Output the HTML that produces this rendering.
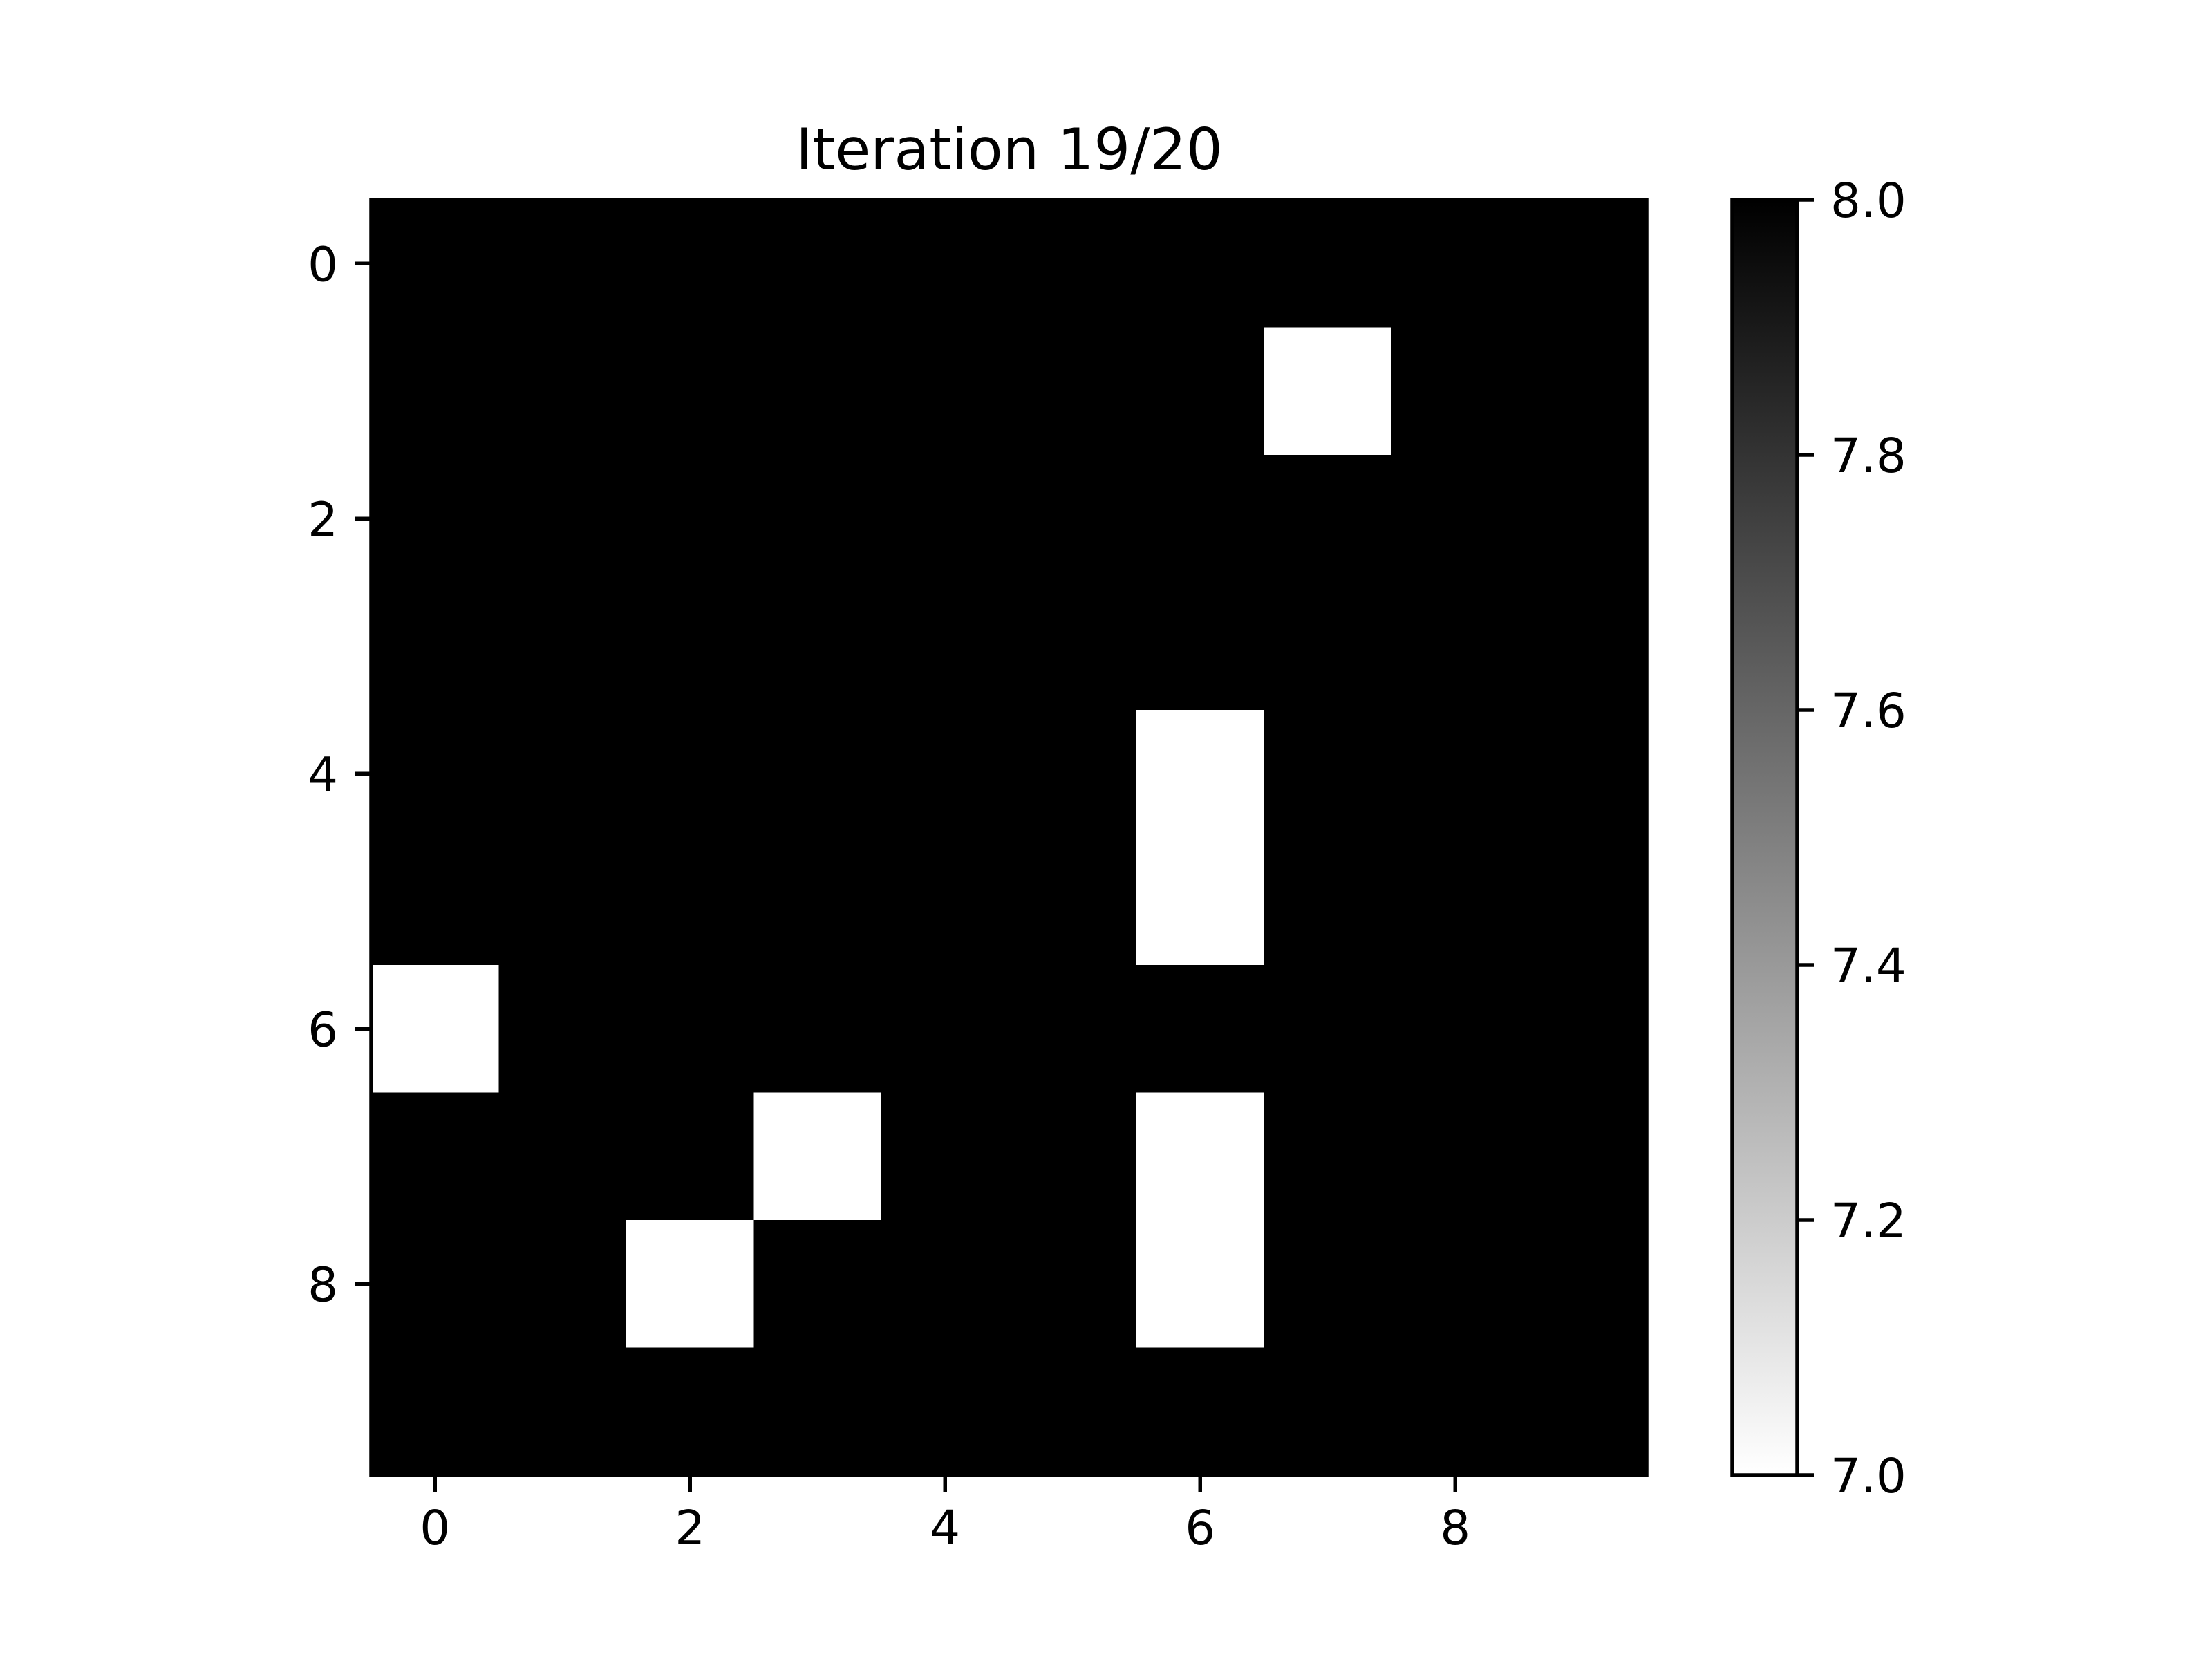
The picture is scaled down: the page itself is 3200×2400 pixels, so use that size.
<!DOCTYPE html>
<html><head><meta charset="utf-8"><style>
html,body{margin:0;padding:0;background:#fff}
svg{display:block}
text{font-family:"DejaVu Sans","Liberation Sans",sans-serif;fill:#000}
</style></head><body>
<svg id="chart" width="3200" height="2400" viewBox="0 0 3200 2400" xmlns="http://www.w3.org/2000/svg">
<defs><linearGradient id="cbgrad" x1="0" y1="1" x2="0" y2="0"><stop offset="0" stop-color="#fff"/><stop offset="1" stop-color="#000"/></linearGradient></defs>
<text x="1460" y="245" font-size="83" text-anchor="middle">Iteration 19/20</text>
<g id="cells"></g>
<g id="axes"></g>
<rect x="2506" y="289" width="94" height="1845" fill="url(#cbgrad)" stroke="#000" stroke-width="5.5"/>
<g id="cbticks"></g>
</svg>
<script>
const nRows = 10;
const nCols = 10;
const vmin = 7, vmax = 8;
// grid values (rows top to bottom)
const gridValues = [
[8,8,8,8,8,8,8,8,8,8],
[8,8,8,8,8,8,8,7,8,8],
[8,8,8,8,8,8,8,8,8,8],
[8,8,8,8,8,8,8,8,8,8],
[8,8,8,8,8,8,7,8,8,8],
[8,8,8,8,8,8,7,8,8,8],
[7,8,8,8,8,8,8,8,8,8],
[8,8,8,7,8,8,7,8,8,8],
[8,8,7,8,8,8,7,8,8,8],
[8,8,8,8,8,8,8,8,8,8]
];
const xTicks = [0,2,4,6,8];
const yTicks = [0,2,4,6,8];
const cbTicks = [7.0,7.2,7.4,7.6,7.8,8.0];

const NS = "http://www.w3.org/2000/svg";
const L = 537, T = 289, W = 1845, H = 1845;
const cw = W / nCols, ch = H / nRows;
const xs = c => L + (c + 0.5) * cw;
const ys = r => T + (r + 0.5) * ch;
const cbTop = 289, cbBot = 2134, cbX = 2600;
const cbY = v => cbBot - (v - vmin) / (vmax - vmin) * (cbBot - cbTop);
function mk(tag, attrs, parent){const e=document.createElementNS(NS,tag);for(const k in attrs)e.setAttribute(k,attrs[k]);parent.appendChild(e);return e;}
const cells = document.getElementById('cells');
gridValues.forEach((row, r) => row.forEach((v, c) => {
  const g = Math.round(255 * (1 - (v - vmin) / (vmax - vmin)));
  const el = mk('rect', {x: xs(c) - cw/2, y: ys(r) - ch/2, width: cw + 0.5, height: ch + 0.5, fill: `rgb(${g},${g},${g})`}, cells);
  
  
}));
const axes = document.getElementById('axes');
const frame = mk('rect', {x: L, y: T, width: W, height: H, fill: 'none', stroke: '#000', 'stroke-width': 5.5}, axes);


xTicks.forEach(t => {
  const x = xs(t);
  const ln = mk('line', {x1: x, x2: x, y1: T + H, y2: T + H + 24, stroke: '#000', 'stroke-width': 5.5}, axes);
  
  
  const tx = mk('text', {x: x, y: T + H + 100, 'font-size': 69, 'text-anchor': 'middle'}, axes);
  tx.textContent = t;
  
  
});
yTicks.forEach(t => {
  const y = ys(t);
  const ln = mk('line', {x1: L - 24, x2: L, y1: y, y2: y, stroke: '#000', 'stroke-width': 5.5}, axes);
  
  
  const tx = mk('text', {x: L - 48, y: y + 25, 'font-size': 69, 'text-anchor': 'end'}, axes);
  tx.textContent = t;
  
  
});
const cbt = document.getElementById('cbticks');
cbTicks.forEach(v => {
  const y = cbY(v);
  const ln = mk('line', {x1: cbX, x2: cbX + 24, y1: y, y2: y, stroke: '#000', 'stroke-width': 5.5}, cbt);
  
  
  const tx = mk('text', {x: cbX + 48, y: y + 25, 'font-size': 69}, cbt);
  tx.textContent = v.toFixed(1);
  
  
});
</script>
</body></html>
